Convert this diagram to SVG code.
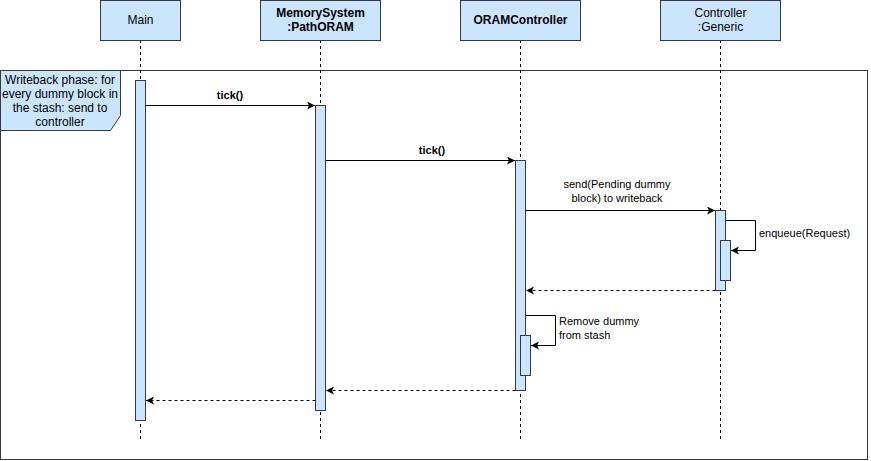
<svg xmlns="http://www.w3.org/2000/svg" width="871" height="461" viewBox="0 0 871 461">
<style>
.hdr{fill:#cce5ff;stroke:#36393d;stroke-width:1}
.act{fill:#cce5ff;stroke:#36393d;stroke-width:1}
.life{stroke:#000;stroke-width:1;stroke-dasharray:3,3;fill:none}
.msg{stroke:#000;stroke-width:1;fill:none}
.ret{stroke:#000;stroke-width:1;fill:none;stroke-dasharray:3,3}
text{font-family:"Liberation Sans",Arial,sans-serif;fill:#000}
.t12{font-size:12px}
.t11{font-size:11px}
.b{font-weight:bold}
</style>
<defs>
<marker id="arr" markerWidth="10" markerHeight="10" refX="8" refY="4" orient="auto" markerUnits="userSpaceOnUse">
<path d="M0,0 L8,4 L0,8 L2,4 Z" fill="#000"/>
</marker>
</defs>
<rect x="0" y="0" width="871" height="461" fill="#fff"/>
<g id="frame">
<rect x="0.5" y="70.5" width="867" height="389" fill="none" stroke="#36393d"/>
<path d="M0.5,70.5 H120.5 V115.5 L110.5,130.5 H0.5 Z" fill="#cce5ff" stroke="#36393d"/>
<text class="t12" text-anchor="middle" x="60" y="84">Writeback phase: for</text>
<text class="t12" text-anchor="middle" x="60" y="98">every dummy block in</text>
<text class="t12" text-anchor="middle" x="60" y="112">the stash: send to</text>
<text class="t12" text-anchor="middle" x="60" y="126">controller</text>
</g>
<g id="lifelines">
<line class="life" x1="140.5" y1="40" x2="140.5" y2="440"/>
<line class="life" x1="320.5" y1="40" x2="320.5" y2="440"/>
<line class="life" x1="520.5" y1="40" x2="520.5" y2="440"/>
<line class="life" x1="720.5" y1="40" x2="720.5" y2="440"/>
</g>
<g id="main">
<rect class="hdr" x="100.5" y="0.5" width="80" height="40"/>
<text class="t12" text-anchor="middle" x="140.5" y="24">Main</text>
<rect class="act" x="135.5" y="80.5" width="10" height="340"/>
</g>
<g id="memsys">
<rect class="hdr" x="260.5" y="0.5" width="120" height="40"/>
<text class="t12 b" text-anchor="middle" x="320.5" y="17">MemorySystem</text>
<text class="t12 b" text-anchor="middle" x="320.5" y="31">:PathORAM</text>
<rect class="act" x="315.5" y="105.5" width="10" height="305"/>
</g>
<g id="oramctrl">
<rect class="hdr" x="460.5" y="0.5" width="120" height="40"/>
<text class="t12 b" text-anchor="middle" x="520.5" y="24">ORAMController</text>
<rect class="act" x="515.5" y="160.5" width="10" height="230"/>
<rect class="act" x="520.5" y="335.5" width="10" height="40"/>
</g>
<g id="generic">
<rect class="hdr" x="660.5" y="0.5" width="120" height="40"/>
<text class="t12" text-anchor="middle" x="720.5" y="17">Controller</text>
<text class="t12" text-anchor="middle" x="720.5" y="31">:Generic</text>
<rect class="act" x="715.5" y="210.5" width="10" height="80"/>
<rect class="act" x="720.5" y="240.5" width="10" height="40"/>
</g>
<g id="connectors">
<line class="msg" x1="145.5" y1="105.5" x2="315" y2="105.5" marker-end="url(#arr)"/>
<text class="t11 b" text-anchor="middle" x="230" y="99">tick()</text>
<line class="msg" x1="325.5" y1="160.5" x2="515" y2="160.5" marker-end="url(#arr)"/>
<text class="t11 b" text-anchor="middle" x="432" y="154">tick()</text>
<line class="msg" x1="525.5" y1="210.5" x2="715" y2="210.5" marker-end="url(#arr)"/>
<text class="t11" text-anchor="middle" x="617" y="188">send(Pending dummy</text>
<text class="t11" text-anchor="middle" x="617" y="202">block) to writeback</text>
<path class="msg" d="M725.5,220.5 H755.5 V250.5 H731" marker-end="url(#arr)"/>
<text class="t11" x="759" y="237">enqueue(Request)</text>
<line class="ret" x1="715.5" y1="290.5" x2="526" y2="290.5" marker-end="url(#arr)"/>
<path class="msg" d="M525.5,315.5 H555.5 V345.5 H531" marker-end="url(#arr)"/>
<text class="t11" x="559" y="325">Remove dummy</text>
<text class="t11" x="559" y="339">from stash</text>
<line class="ret" x1="515.5" y1="390.5" x2="326" y2="390.5" marker-end="url(#arr)"/>
<line class="ret" x1="315.5" y1="400.5" x2="146" y2="400.5" marker-end="url(#arr)"/>
</g>
</svg>
